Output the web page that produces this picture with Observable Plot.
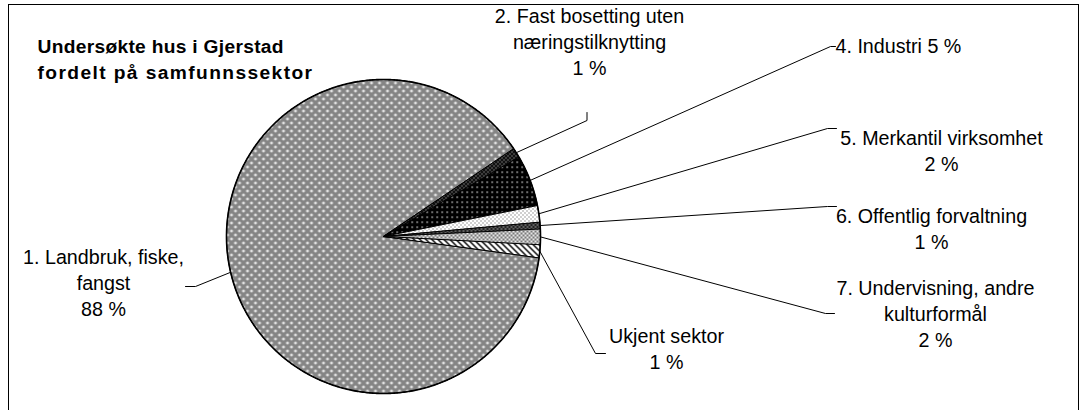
<!DOCTYPE html>
<html>
<head>
<meta charset="utf-8">
<script src="https://cdn.jsdelivr.net/npm/d3@7"></script>
<script src="https://cdn.jsdelivr.net/npm/@observablehq/plot@0.6"></script>
<style>
  html, body { margin: 0; padding: 0; background: #fff; }
  #chart svg { display: block; }
</style>
</head>
<body>
<div id="chart"></div>
<script>
// ---- data ----
const categories = [
  "1. Landbruk, fiske, fangst",
  "2. Fast bosetting uten næringstilknytting",
  "4. Industri",
  "5. Merkantil virksomhet",
  "6. Offentlig forvaltning",
  "7. Undervisning, andre kulturformål",
  "Ukjent sektor"
];
const shares = [88.4, 1.0, 5.3, 1.7, 0.7, 1.6, 1.3];
const labelLines = [
  ["1. Landbruk, fiske,", "fangst", "88 %"],
  ["2. Fast bosetting uten", "næringstilknytting", "1 %"],
  ["4. Industri 5 %"],
  ["5. Merkantil virksomhet", "2 %"],
  ["6. Offentlig forvaltning", "1 %"],
  ["7. Undervisning, andre", "kulturformål", "2 %"],
  ["Ukjent sektor", "1 %"]
];
const titleLines = ["Undersøkte hus i Gjerstad", "fordelt på samfunnssektor"];

// ---- layout (pixels) ----
const W = 1086, H = 410;
const CX = 383, CY = 236, R = 157;
const M = {left: 8, right: 8, top: 4, bottom: 0};
const startDeg = 97.7;
const fontFamily = "'Liberation Sans', Arial, Helvetica, sans-serif";
const labelSize = 19.7, titleSize = 19.2, lineGap = 26;
const titlePos = {x: 37, y: 46, gap: 26, spacing: [0.3, 1.4]};
const labelLayout = [
  {x: 103, y: 257, anchor: "middle", path: [[195, 286], [185, 286]]},
  {x: 589, y: 16,  anchor: "middle", path: [[586.5, 120], [586.5, 112]]},
  {x: 835, y: 46,  anchor: "start",  path: [[830, 46], [835, 46]]},
  {x: 941, y: 138, anchor: "middle", path: [[827, 128], [836, 128]]},
  {x: 931, y: 216, anchor: "middle", path: [[827, 206], [836, 206]]},
  {x: 935, y: 288, anchor: "middle", path: [[825, 313], [834, 313]]},
  {x: 666, y: 336, anchor: "middle", path: [[595, 353], [605, 353]]}
];
const patternIds = ["p1", "p2", "p4", "p5", "p6", "p7", "pU"];

const toX = px => (px - CX) / R;
const toY = py => (CY - py) / R;

// ---- pie geometry ----
const a0 = startDeg * Math.PI / 180;
const arcs = d3.pie().sort(null).value(d => d).startAngle(a0).endAngle(a0 + 2 * Math.PI)(shares);

const slicePts = arcs.map((a, i) => {
  const pts = [{x: 0, y: 0, k: i}];
  const n = Math.max(4, Math.ceil((a.endAngle - a.startAngle) / (Math.PI / 360)));
  for (let j = 0; j <= n; j++) {
    const t = a.startAngle + (a.endAngle - a.startAngle) * j / n;
    pts.push({x: Math.sin(t), y: Math.cos(t), k: i});
  }
  return pts;
});
const ring = d3.range(0, 721).map(j => {
  const t = j * Math.PI / 360;
  return {x: Math.sin(t), y: Math.cos(t)};
});

const leaders = arcs.map((a, i) => {
  const m = (a.startAngle + a.endAngle) / 2;
  const pts = [{x: Math.sin(m), y: Math.cos(m), k: i}];
  for (const [px, py] of labelLayout[i].path) pts.push({x: toX(px), y: toY(py), k: i});
  return pts;
}).flat();

const textRows = labelLines.flatMap((lines, i) =>
  lines.map((t, j) => ({
    text: t,
    x: toX(labelLayout[i].x),
    y: toY(labelLayout[i].y + j * lineGap),
    anchor: labelLayout[i].anchor
  }))
);
const titleRows = titleLines.map((t, j) => ({text: t, x: toX(titlePos.x), y: toY(titlePos.y + j * titlePos.gap), j}));

const xDomain = [toX(M.left), toX(W - M.right)];
const yDomain = [toY(H - M.bottom), toY(M.top)];

const marks = [];
slicePts.forEach((pts, i) => {
  marks.push(Plot.line(pts, {
    x: "x", y: "y", curve: "linear-closed",
    fill: `url(#${patternIds[i]})`, stroke: "#000", strokeWidth: 1, strokeLinejoin: "round"
  }));
});
marks.push(Plot.line(ring, {x: "x", y: "y", stroke: "#000", strokeWidth: 1.6}));
marks.push(Plot.line(leaders, {x: "x", y: "y", z: "k", stroke: "#000", strokeWidth: 1}));
marks.push(Plot.text(textRows.filter(d => d.anchor === "middle"), {
  x: "x", y: "y", text: "text", textAnchor: "middle", fontSize: labelSize, fill: "#000"
}));
marks.push(Plot.text(textRows.filter(d => d.anchor === "start"), {
  x: "x", y: "y", text: "text", textAnchor: "start", fontSize: labelSize, fill: "#000"
}));
titleRows.forEach(r => {
  marks.push(Plot.text([r], {
    x: "x", y: "y", text: "text", textAnchor: "start", fontSize: titleSize, fontWeight: "bold", fill: "#000",
    className: `title-line-${r.j}`
  }));
});
// chart frame (open at the bottom)
marks.push(Plot.ruleX([xDomain[0], xDomain[1]], {stroke: "#000", strokeWidth: 1}));
marks.push(Plot.ruleY([yDomain[1]], {stroke: "#000", strokeWidth: 1}));

const svg = Plot.plot({
  width: W, height: H,
  marginLeft: M.left, marginRight: M.right, marginTop: M.top, marginBottom: M.bottom,
  x: {domain: xDomain, axis: null},
  y: {domain: yDomain, axis: null},
  style: {fontFamily, background: "#fff", overflow: "visible"},
  marks
});
document.getElementById("chart").appendChild(svg);
titlePos.spacing.forEach((s, j) => {
  d3.select(svg).selectAll(`.title-line-${j} text`).style("letter-spacing", `${s}px`);
});

// ---- fill patterns (base tone + texture spots) ----
const defs = d3.select(svg).insert("defs", ":first-child");
function addPattern(id, w, h, bg, fg, cells) {
  const p = defs.append("pattern").attr("id", id)
    .attr("patternUnits", "userSpaceOnUse").attr("width", w).attr("height", h);
  p.append("rect").attr("width", w).attr("height", h).attr("fill", bg);
  for (const [x, y, cw = 1, ch = 1] of cells) {
    p.append("rect").attr("x", x).attr("y", y).attr("width", cw).attr("height", ch).attr("fill", fg);
  }
}
// 1: mid grey with small white crosses
addPattern("p1", 8, 8, "#858585", "#fff", [[1.5, 2, 3, 1], [2.5, 1, 1, 3], [5.5, 6, 3, 1], [6.5, 5, 1, 3], [-2.5, 6, 3, 1]]);
// 2: near-black, fine dots
addPattern("p2", 4, 4, "#111", "#bbb", [[1, 1], [3, 3]]);
// 4: black with white dots
addPattern("p4", 5, 5, "#000", "#fff", [[1, 1, 1.3, 1.3]]);
// 5: white with black dots
addPattern("p5", 4, 4, "#fff", "#444", [[0, 0], [2, 2]]);
// 6: dark cross-hatch
addPattern("p6", 4, 4, "#222", "#999", [[0, 0, 2, 1], [2, 2, 2, 1]]);
// 7: light grey checker
addPattern("p7", 4, 4, "#e6e6e6", "#7a7a7a", [[0, 0, 2, 2], [2, 2, 2, 2]]);
// Ukjent: diagonal hatch
const hatch = d3.range(6).flatMap(i => [[i, i], [(i + 1) % 6, i]]);
addPattern("pU", 6, 6, "#fff", "#000", hatch);
</script>
</body>
</html>
